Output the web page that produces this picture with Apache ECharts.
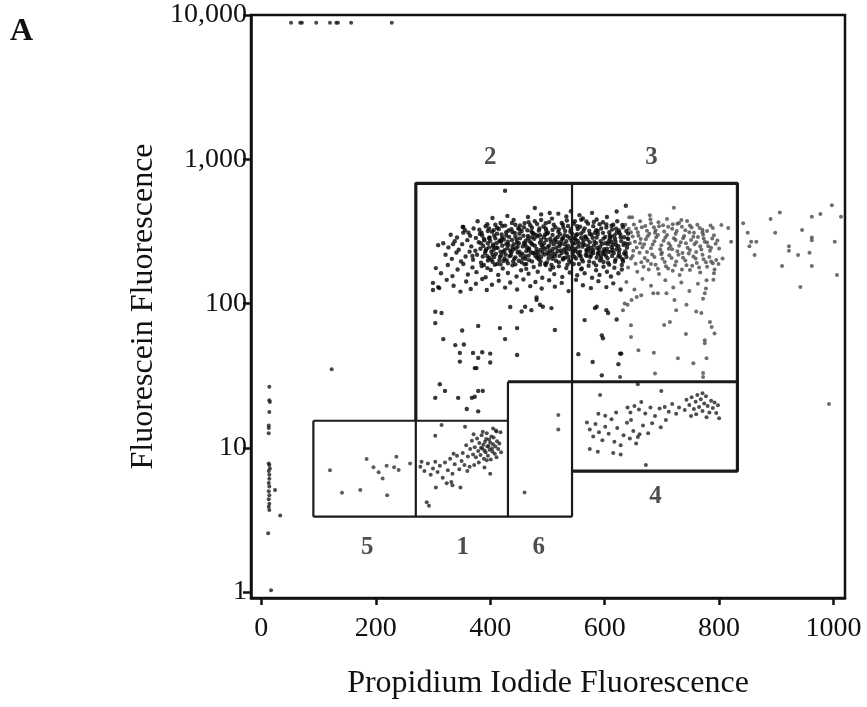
<!DOCTYPE html>
<html>
<head>
<meta charset="utf-8">
<title>Flow cytometry gates</title>
<script src="https://cdn.jsdelivr.net/npm/echarts@6/dist/echarts.min.js"></script>
<style>
  html, body { margin: 0; padding: 0; background: #fff; }
  #chart { width: 867px; height: 707px; }
</style>
</head>
<body>
<div id="chart"></div>
<script>
// tick values
const xTicks = [0, 200, 400, 600, 800, 1000]
const yTicks = [1, 10, 100, 1000, 10000]

// events piled up at the top of the fluorescein scale
const topEvents = [[52, 8850], [68, 8850], [71, 8850], [96, 8850], [120, 8850], [131, 8850], [134, 8850], [157, 8850], [228, 8850]]

// events hugging the left axis
const axisEvents = [
  [14, 26.5], [14, 21.4], [15, 20.8], [14, 17.7], [13, 14.3], [13, 13.7], [13, 12.6],
  [13, 7.8], [14, 7.6], [15, 7.2], [13, 6.9], [14, 6.5], [14, 6.1], [13, 5.7], [14, 5.4],
  [13, 5.0], [14, 4.7], [13, 4.4], [14, 4.1], [13, 3.9], [14, 3.7], [24, 5.1], [33, 3.4],
  [12, 2.56], [17, 1.03], [123, 35]
]

const gate5Events = [
  [120, 7.0], [184, 8.36], [196, 7.32], [205, 6.76], [212, 6.14], [219, 7.51], [232, 7.32],
  [236, 8.67], [240, 7.01], [260, 7.8], [141, 4.88], [173, 5.1], [220, 4.7]
]

const gate1Events = [
  [352, 9.2], [358, 10.4], [361, 8.7], [365, 9.8], [368, 11.2], [370, 9.0], [373, 10.1], [375, 8.6],
  [377, 11.6], [379, 9.5], [381, 10.8], [383, 8.9], [385, 12.2], [386, 9.9], [388, 10.5], [389, 8.4],
  [391, 11.0], [392, 9.3], [394, 12.6], [395, 10.2], [396, 8.8], [398, 11.4], [399, 9.7], [400, 10.9],
  [401, 8.3], [402, 12.0], [404, 9.4], [405, 10.6], [406, 11.8], [408, 9.1], [409, 10.2], [411, 8.6],
  [412, 11.1], [414, 9.8], [416, 10.7], [418, 12.8], [419, 9.3], [384, 10.0], [390, 9.6], [397, 10.3],
  [403, 9.9], [393, 11.5], [387, 12.9], [380, 7.9], [371, 12.4], [410, 13.2],
  [278, 7.4], [285, 6.9], [291, 7.8], [296, 6.5], [300, 7.2], [304, 8.0], [308, 6.8], [312, 7.5],
  [317, 6.2], [321, 7.9], [326, 7.0], [330, 8.4], [334, 6.6], [338, 7.7], [342, 8.8], [346, 7.1],
  [350, 8.1], [355, 7.6], [360, 6.9], [336, 9.1], [364, 7.4],
  [315, 14.4], [356, 14.0], [304, 12.1], [405, 13.6], [411, 13.0], [305, 5.3], [324, 5.67], [332, 5.8],
  [334, 5.5], [348, 5.3], [289, 4.2], [293, 3.96], [394, 8.2], [400, 6.6], [372, 7.6], [390, 7.3], [280, 8.0]
]

const gate6Events = [[519, 16.9], [519, 13.4], [460, 4.9]]

const gate4Events = [
  [743, 21.5], [748, 19.8], [752, 22.4], [756, 18.6], [759, 20.9], [762, 23.2], [765, 19.2], [768, 21.7],
  [771, 18.0], [774, 20.3], [777, 22.8], [780, 19.5], [783, 17.6], [786, 21.2], [789, 18.9], [792, 20.6],
  [795, 17.4], [798, 19.7], [760, 17.1], [778, 16.3], [800, 16.0], [751, 16.6], [740, 18.3], [730, 19.0], [725, 17.2],
  [652, 19.5], [660, 18.4], [664, 20.8], [671, 17.3], [680, 19.0], [688, 16.6], [696, 18.7], [705, 19.2],
  [712, 17.8], [718, 20.1], [683, 14.8], [698, 13.9], [676, 12.6], [707, 15.6], [640, 19.0], [645, 17.6],
  [569, 15.0], [574, 13.4], [580, 12.0], [584, 14.6], [590, 12.8], [596, 11.3], [601, 14.0], [607, 12.5],
  [612, 15.8], [617, 11.0], [622, 13.7], [628, 10.4], [633, 12.2], [639, 14.9], [644, 11.6], [650, 13.1],
  [655, 10.7], [661, 12.4], [667, 14.3], [574, 9.8], [588, 9.4], [615, 9.2], [628, 9.0], [658, 11.9],
  [646, 15.6], [601, 16.7], [620, 17.6], [589, 17.2],
  [592, 23.2], [699, 24.8], [771, 23.9], [672, 7.6], [658, 27.6], [627, 31]
]

// dense population in gates 2 and 3 (dark part)
const mainEvents = [
  [352, 339], [362, 310], [378, 372], [395, 355], [404, 392], [418, 362], [430, 405], [441, 380], [452, 348],
  [466, 398], [478, 372], [489, 415], [497, 360], [508, 388], [519, 420], [527, 352], [533, 401], [541, 436],
  [548, 372], [556, 410], [562, 389], [571, 358], [578, 425], [586, 382], [597, 366], [604, 398], [612, 346],
  [622, 372], [631, 351],
  [331, 300], [342, 287], [356, 322], [365, 295], [371, 331], [382, 304], [389, 280], [396, 318], [407, 296],
  [412, 335], [421, 286], [428, 312], [437, 327], [444, 292], [451, 305], [459, 338], [466, 284], [472, 316],
  [480, 299], [486, 331], [494, 289], [501, 310], [509, 324], [514, 281], [522, 302], [528, 336], [535, 293],
  [540, 315], [547, 284], [553, 328], [559, 306], [566, 292], [573, 319], [579, 286], [588, 303], [594, 331],
  [601, 290], [608, 312], [617, 297], [625, 321], [634, 288], [641, 305],
  [318, 262], [327, 245], [338, 270], [345, 236], [351, 258], [360, 275], [367, 249], [374, 232], [380, 266],
  [388, 251], [393, 238], [400, 272], [405, 257], [413, 243], [419, 268], [425, 234], [432, 255], [438, 276],
  [445, 241], [450, 262], [457, 249], [463, 231], [469, 270], [474, 256], [481, 239], [487, 264], [492, 247],
  [498, 276], [504, 233], [511, 258], [516, 244], [524, 269], [529, 237], [536, 252], [542, 272], [549, 240],
  [555, 261], [561, 248], [568, 235], [574, 266], [581, 252], [587, 243], [593, 271], [599, 238], [606, 259],
  [612, 246], [619, 268], [626, 236], [633, 255], [639, 244],
  [322, 218], [333, 204], [341, 226], [349, 196], [357, 212], [364, 229], [370, 201], [377, 218], [384, 192],
  [391, 224], [398, 207], [404, 195], [410, 221], [417, 210], [423, 228], [429, 199], [436, 216], [442, 204],
  [448, 226], [455, 193], [461, 213], [468, 200], [475, 223], [482, 208], [488, 196], [495, 219], [502, 205],
  [508, 227], [515, 198], [521, 214], [527, 202], [534, 222], [541, 193], [547, 211], [553, 226], [560, 203],
  [567, 217], [573, 196], [580, 224], [586, 208], [592, 199], [599, 220], [605, 206], [611, 229], [618, 195],
  [624, 213], [631, 203], [637, 221],
  [305, 176], [314, 162], [326, 185], [334, 155], [343, 172], [353, 188], [361, 159], [369, 178], [376, 165],
  [385, 182], [392, 152], [401, 171], [408, 186], [414, 158], [422, 175], [431, 163], [439, 184], [446, 154],
  [454, 170], [460, 187], [467, 161], [476, 179], [483, 166], [491, 151], [497, 185], [505, 172], [512, 160],
  [520, 181], [526, 153], [533, 176], [539, 164], [546, 188], [552, 157], [559, 173], [565, 162], [572, 183],
  [578, 151], [585, 170], [591, 158], [598, 180], [604, 166], [611, 154], [617, 177], [624, 162], [630, 185],
  [300, 139], [311, 128], [324, 146], [336, 133], [348, 121], [358, 142], [366, 126], [375, 137], [386, 148],
  [394, 124], [403, 135], [415, 144], [426, 129], [435, 140], [447, 125], [458, 147], [470, 132], [479, 141],
  [490, 127], [503, 145], [513, 131], [525, 139], [537, 122], [550, 146], [562, 134], [576, 128], [589, 143],
  [603, 130], [615, 138], [628, 125],
  [383, 240], [387, 212], [396, 262], [402, 229], [409, 283], [416, 199], [421, 252], [427, 219], [433, 290],
  [440, 237], [447, 265], [453, 216], [458, 295], [464, 246], [471, 227], [477, 281], [484, 218], [490, 254],
  [496, 301], [500, 226], [506, 268], [513, 213], [518, 289], [523, 233], [530, 258], [537, 210], [543, 246],
  [550, 298], [557, 229], [563, 275], [569, 214], [576, 243], [583, 309], [589, 226], [595, 259], [602, 215],
  [609, 282], [614, 236], [620, 255], [627, 211], [396, 199], [418, 275], [439, 312], [462, 204], [485, 320],
  [507, 185], [531, 318], [555, 188], [577, 300], [598, 194], [621, 310], [375, 285], [369, 214], [412, 305],
  [444, 187], [473, 335], [499, 193], [526, 281], [552, 344], [571, 238], [593, 214], [612, 268], [636, 230],
  [641, 280], [548, 262], [532, 228], [488, 236], [466, 294], [431, 268], [405, 249],
  [381, 325], [386, 296], [392, 343], [399, 287], [403, 314], [409, 352], [415, 329], [420, 301], [426, 347],
  [432, 321], [438, 362], [443, 309], [449, 333], [455, 318], [460, 361], [465, 322], [470, 349], [476, 305],
  [482, 356], [487, 298], [493, 342], [498, 320], [503, 367], [509, 299], [514, 338], [519, 314], [525, 362],
  [530, 298], [536, 345], [541, 327], [546, 358], [552, 302], [557, 341], [563, 318], [568, 371], [574, 304],
  [580, 344], [585, 322], [591, 355], [597, 309], [603, 337], [609, 297], [615, 352], [620, 330], [626, 307],
  [632, 338], [638, 318],
  [384, 262], [390, 274], [398, 245], [406, 236], [411, 262], [418, 229], [424, 278], [430, 242], [435, 232],
  [441, 258], [448, 248], [452, 283], [459, 263], [462, 272], [468, 241], [473, 288], [478, 252], [483, 229],
  [489, 277], [494, 262], [500, 246], [505, 281], [510, 240], [517, 266], [521, 251], [527, 284], [533, 270],
  [538, 238], [544, 261], [549, 279], [554, 248], [559, 286], [565, 255], [570, 278], [576, 229], [582, 268],
  [586, 287], [592, 248], [598, 282], [604, 240], [607, 270], [614, 256], [618, 281], [624, 250], [629, 271], [635, 262],
  [389, 185], [395, 213], [402, 202], [407, 210], [412, 188], [419, 216], [425, 205], [431, 190], [437, 227],
  [444, 209], [450, 198], [456, 222], [463, 188], [467, 215], [473, 196], [479, 214], [485, 203], [491, 226],
  [496, 189], [502, 218], [509, 204], [514, 222], [520, 193], [525, 224], [531, 208], [538, 198], [544, 228],
  [550, 205], [556, 216], [562, 196], [569, 227], [575, 210], [581, 192], [588, 220], [594, 205], [600, 230],
  [606, 192], [613, 214], [619, 202], [625, 224], [632, 196], [638, 210],
  [392, 232], [398, 284], [404, 218], [410, 244], [416, 271], [423, 197], [428, 258], [434, 213], [439, 247],
  [446, 278], [451, 229], [457, 205], [461, 258], [467, 236], [472, 262], [478, 225], [483, 292], [489, 210],
  [495, 238], [499, 305], [503, 252], [508, 214], [512, 274], [518, 231], [523, 258], [528, 206], [533, 243],
  [539, 285], [544, 219], [548, 232], [553, 272], [558, 214], [562, 262], [567, 288], [571, 251], [576, 216],
  [580, 235], [585, 262], [590, 236], [596, 226], [601, 262], [606, 228], [611, 290], [616, 224], [621, 238],
  [628, 288], [634, 222], [640, 258], [613, 326], [588, 318], [565, 332], [543, 305], [520, 326], [497, 332],
  [474, 308], [451, 326], [428, 296], [406, 322], [385, 310], [603, 354], [581, 368], [559, 381], [534, 376],
  [511, 352], [489, 379], [467, 366], [444, 352], [421, 345], [398, 331], [560, 175], [535, 186], [510, 178],
  [487, 186], [463, 174], [440, 196], [418, 187], [395, 176], [585, 184], [608, 186], [630, 172],
  // sparse events below the main band
  [426, 605], [478, 459], [504, 424], [353, 339], [353, 310], [309, 254], [335, 258], [300, 124], [309, 130],
  [304, 87.7], [315, 86], [304, 73.2], [318, 56.7], [339, 51.5], [347, 45.5], [347, 39.6], [354, 52],
  [370, 45.5], [373, 35.7], [376, 35.7], [379, 42], [386, 46], [400, 45], [400, 39], [379, 70], [351, 65],
  [417, 67.6], [447, 67.6], [447, 44], [426, 56.7], [312, 27.6], [321, 24.8], [304, 22.2], [344, 22.2],
  [368, 22.2], [373, 22.6], [379, 24.8], [387, 24.8], [359, 18.6], [379, 17.9], [487, 98], [492, 95],
  [507, 93], [481, 110], [481, 106], [461, 95], [472, 90], [513, 65.6], [435, 94.6], [455, 88],
  [565, 76.8], [583, 93], [586, 95], [603, 90], [606, 86], [554, 44.6], [579, 39.4], [595, 60.2],
  [597, 57.5], [627, 45], [629, 45], [624, 38], [595, 31.8], [621, 77.5], [621, 434], [637, 476]
]

// lighter events towards the right of gate 3 and beyond
const rightEvents = [
  [636, 352], [648, 396], [655, 331], [662, 372], [671, 345], [679, 410], [686, 338], [694, 366], [702, 349],
  [709, 385], [718, 330], [727, 358], [735, 341], [744, 374], [752, 336], [762, 352], [771, 325], [785, 348],
  [628, 300], [640, 284], [646, 312], [653, 268], [659, 295], [666, 246], [672, 279], [678, 305], [684, 257],
  [690, 288], [697, 238], [703, 272], [709, 299], [715, 251], [721, 283], [727, 230], [733, 266], [739, 294],
  [745, 244], [751, 276], [757, 258], [763, 289], [769, 237], [775, 268], [781, 250], [788, 282], [794, 260],
  [800, 241], [650, 232], [662, 262], [674, 228], [688, 310], [700, 226], [712, 240], [724, 305], [736, 224],
  [748, 312], [760, 228], [772, 300], [784, 232],
  [632, 201], [641, 178], [649, 214], [657, 166], [664, 193], [670, 207], [677, 172], [683, 219], [689, 186],
  [695, 160], [701, 204], [707, 181], [713, 216], [719, 169], [725, 196], [731, 158], [737, 208], [743, 184],
  [749, 171], [755, 212], [761, 191], [767, 164], [773, 203], [779, 180], [786, 196], [792, 172], [799, 188], [806, 205],
  [638, 141], [652, 125], [666, 148], [681, 133], [693, 118], [706, 145], [720, 129], [734, 140], [748, 122],
  [763, 137], [777, 127], [790, 146],
  [642, 330], [651, 353], [658, 312], [665, 338], [674, 319], [681, 360], [689, 322], [695, 344], [704, 316],
  [711, 340], [719, 355], [726, 318], [734, 380], [741, 322], [749, 348], [756, 310], [766, 334], [779, 318],
  [644, 262], [649, 291], [656, 245], [663, 280], [669, 258], [675, 293], [681, 242], [687, 270], [693, 299],
  [699, 254], [706, 287], [712, 262], [718, 238], [724, 276], [730, 252], [737, 283], [742, 262], [749, 235],
  [755, 290], [760, 266], [767, 250], [773, 282], [779, 265], [786, 244], [791, 298], [797, 273],
  [646, 205], [654, 189], [661, 225], [668, 180], [675, 198], [681, 188], [687, 210], [693, 174], [699, 220],
  [705, 194], [711, 175], [717, 207], [723, 184], [729, 218], [735, 172], [741, 199], [747, 222], [753, 183],
  [759, 205], [765, 178], [771, 218], [777, 193], [783, 210], [795, 200],
  [721, 461], [643, 397], [680, 384], [730, 362], [789, 334], [804, 350], [816, 334], [771, 312], [821, 268],
  [789, 190], [791, 162], [778, 145], [775, 118], [772, 108], [760, 88], [769, 86], [784, 74.5], [787, 68.8],
  [792, 62], [775, 55.7], [775, 53], [742, 61.5], [704, 71], [714, 74.5], [686, 45.6], [659, 47.5], [646, 58.6],
  [646, 70.8], [632, 90], [635, 100], [640, 98], [647, 106], [656, 111], [664, 114], [685, 118], [708, 118],
  [722, 106], [743, 98], [725, 90], [728, 41.7], [755, 38.5], [778, 41.7], [772, 33], [772, 31], [688, 32.8],
  [842, 360], [850, 309], [856, 268], [865, 268], [853, 250], [862, 217], [890, 385], [906, 427], [898, 309],
  [922, 250], [922, 232], [938, 217], [910, 182], [945, 323], [962, 400], [962, 287], [962, 275], [958, 225],
  [962, 182], [977, 417], [997, 480], [1002, 268], [1006, 158], [942, 130], [992, 20.1], [1013, 400]
]

// gate outlines, each a list of [x, y] corners
const gateThick = [
  [[270, 15.4], [270, 681], [832, 681], [832, 6.9], [543, 6.9]],
  [[431, 28.7], [832, 28.7]]
]
const gateThin = [
  [[543, 681], [543, 3.33]],
  [[91, 15.4], [431, 15.4]],
  [[91, 3.33], [543, 3.33]],
  [[91, 15.4], [91, 3.33]],
  [[270, 15.4], [270, 3.33]],
  [[431, 28.7], [431, 3.33]]
]

const gateNames = ['2', '3', '4', '5', '1', '6']
const gateNameX = [400, 682, 689, 185, 352, 485]
const gateNameY = [1020, 1020, 4.6, 2.05, 2.05, 2.05]

const serif = '"Liberation Serif", "Times New Roman", serif'

function dots (data, color, size) {
  return {
    type: 'scatter',
    data: data,
    symbolSize: size || 4,
    itemStyle: { color: color },
    silent: true
  }
}

function gateLines (paths, width) {
  return paths.map(p => ({
    type: 'line',
    data: p,
    symbol: 'none',
    lineStyle: { color: '#1a1a1a', width: width },
    silent: true
  }))
}

const chart = echarts.init(document.getElementById('chart'))

const option = {
  animation: false,
  backgroundColor: '#fff',
  grid: {
    left: 251,
    top: 15,
    right: 22,
    bottom: 109,
    show: true,
    borderColor: '#111',
    borderWidth: 2.5
  },
  xAxis: {
    type: 'value',
    min: -18,
    max: 1020,
    name: 'Propidium Iodide Fluorescence',
    nameLocation: 'middle',
    nameGap: 70,
    nameTextStyle: { fontFamily: serif, fontSize: 32, color: '#111' },
    axisLine: { lineStyle: { color: '#111', width: 2.5 } },
    axisTick: { customValues: xTicks, length: 7, lineStyle: { color: '#111', width: 2.5 } },
    axisLabel: {
      customValues: xTicks,
      margin: 17,
      fontFamily: serif,
      fontSize: 28,
      color: '#111',
      formatter: v => String(v)
    },
    splitLine: { show: false }
  },
  yAxis: {
    type: 'log',
    logBase: 10,
    min: 0.91,
    max: 10000,
    name: 'Fluorescein Fluorescence',
    nameLocation: 'middle',
    nameGap: 84,
    nameTextStyle: { fontFamily: serif, fontSize: 32, color: '#111' },
    axisLine: { onZero: false, lineStyle: { color: '#111', width: 2.5 } },
    axisTick: { customValues: yTicks, length: 8, lineStyle: { color: '#111', width: 2.5 } },
    axisLabel: {
      customValues: yTicks,
      margin: 4,
      fontFamily: serif,
      fontSize: 28,
      color: '#111',
      formatter: v => Number(v).toLocaleString('en-US')
    },
    splitLine: { show: false }
  },
  graphic: [
    {
      type: 'text',
      left: 10,
      top: 16,
      style: { text: 'A', font: 'bold 32px ' + serif, fill: '#111' }
    }
  ],
  series: [
    dots(topEvents, '#1a1a1a'),
    dots(axisEvents, '#1a1a1a'),
    dots(gate5Events, '#333'),
    dots(gate1Events, '#222'),
    dots(gate6Events, '#333'),
    dots(gate4Events, '#222'),
    dots(rightEvents, '#4a4a4a'),
    dots(mainEvents, '#050505', 4.4),
    ...gateLines(gateThick, 3.2),
    ...gateLines(gateThin, 2.2),
    {
      type: 'scatter',
      symbolSize: 0,
      silent: true,
      data: gateNames.map((n, i) => ({ name: n, value: [gateNameX[i], gateNameY[i]] })),
      label: {
        show: true,
        position: 'inside',
        formatter: p => p.name,
        fontFamily: serif,
        fontWeight: 'bold',
        fontSize: 25,
        color: '#222'
      }
    }
  ]
}

chart.setOption(option)
</script>
</body>
</html>
